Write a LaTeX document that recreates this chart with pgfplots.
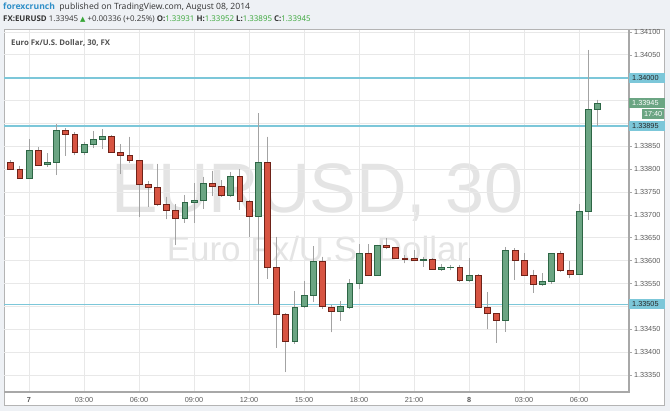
\documentclass[border=0pt]{standalone}
\usepackage{fontspec}
\usepackage{pgfplots}
\usepackage{pgfplotstable}
\pgfplotsset{compat=1.18}
\usepgfplotslibrary{statistics}
\setmainfont{Open Sans}
\newfontfamily\arialf{Liberation Sans}
\newfontfamily\dejavu{DejaVu Sans}

\definecolor{bgc}{HTML}{EEF1F5}
\definecolor{framec}{HTML}{B4B4B4}
\definecolor{gridc}{HTML}{E8E8E8}
\definecolor{axisc}{HTML}{A8A8A8}
\definecolor{tickc}{HTML}{5A5A5A}
\definecolor{wmc}{HTML}{E4E4E4}
\definecolor{upfill}{HTML}{6BA583}
\definecolor{upedge}{HTML}{2D6645}
\definecolor{downfill}{HTML}{D75442}
\definecolor{downedge}{HTML}{6E2218}
\definecolor{wick}{HTML}{A3A3A3}
\definecolor{refc}{HTML}{7CC7D9}
\definecolor{fcblue}{HTML}{2F8FC8}
\definecolor{hgreen}{HTML}{37A637}
\definecolor{hdrc}{HTML}{333333}
\definecolor{titlec}{HTML}{505050}

\pgfdeclarelayer{bg}
\pgfsetlayers{bg,main}

% Prices are kept as quoted (1.3xxxx). For plotting precision they are read
% exactly (by digits) as u = (price - 1.3) * 1000, e.g. 1.33816 -> 38.16.
\def\Pconv1.3#1#2#3#4#5\relax{#1#2.#3#4#5}
\newcommand\price[1]{\Pconv#1\relax}

% 30-minute candles, x = candle index (0 = Aug 7, 00:00)
\pgfplotstableread{
x  o       h       l       c
0  1.33781 1.33866 1.33779 1.33842
2  1.33810 1.33835 1.33805 1.33816
3  1.33815 1.33899 1.33787 1.33886
6  1.33838 1.33860 1.33831 1.33854
7  1.33854 1.33884 1.33846 1.33866
8  1.33866 1.33887 1.33844 1.33871
17 1.33693 1.33744 1.33683 1.33728
18 1.33728 1.33769 1.33683 1.33731
19 1.33731 1.33784 1.33714 1.33770
22 1.33742 1.33794 1.33740 1.33784
25 1.33698 1.33922 1.33505 1.33815
29 1.33423 1.33534 1.33418 1.33499
30 1.33500 1.33556 1.33496 1.33524
31 1.33524 1.33632 1.33510 1.33599
34 1.33490 1.33512 1.33469 1.33500
35 1.33498 1.33559 1.33494 1.33550
36 1.33550 1.33636 1.33537 1.33616
38 1.33569 1.33635 1.33568 1.33634
43 1.33601 1.33609 1.33587 1.33604
45 1.33582 1.33592 1.33578 1.33585
46 1.33585 1.33590 1.33579 1.33586
48 1.33556 1.33605 1.33555 1.33569
52 1.33470 1.33630 1.33445 1.33623
56 1.33549 1.33572 1.33545 1.33555
57 1.33555 1.33616 1.33549 1.33615
60 1.33571 1.33723 1.33570 1.33707
61 1.33707 1.34061 1.33689 1.33931
62 1.33931 1.33952 1.33895 1.33945
}\upcandles

\pgfplotstableread{
x  o       h       l       c
-2 1.33816 1.33820 1.33798 1.33800
-1 1.33800 1.33808 1.33779 1.33781
1  1.33842 1.33848 1.33808 1.33809
4  1.33886 1.33889 1.33829 1.33877
5  1.33877 1.33881 1.33831 1.33838
9  1.33872 1.33875 1.33837 1.33838
10 1.33838 1.33855 1.33789 1.33830
11 1.33830 1.33871 1.33813 1.33819
12 1.33819 1.33820 1.33696 1.33767
13 1.33767 1.33774 1.33718 1.33760
14 1.33760 1.33812 1.33719 1.33724
15 1.33724 1.33740 1.33690 1.33711
16 1.33711 1.33724 1.33634 1.33693
20 1.33770 1.33797 1.33741 1.33763
21 1.33763 1.33776 1.33740 1.33742
23 1.33784 1.33800 1.33711 1.33730
24 1.33730 1.33732 1.33652 1.33698
26 1.33815 1.33871 1.33560 1.33585
27 1.33585 1.33652 1.33410 1.33483
28 1.33483 1.33485 1.33356 1.33423
32 1.33599 1.33609 1.33494 1.33501
33 1.33499 1.33504 1.33443 1.33490
37 1.33616 1.33636 1.33566 1.33569
39 1.33634 1.33649 1.33625 1.33629
40 1.33630 1.33630 1.33604 1.33605
41 1.33605 1.33612 1.33594 1.33604
42 1.33605 1.33623 1.33599 1.33601
44 1.33604 1.33605 1.33580 1.33581
47 1.33585 1.33590 1.33555 1.33556
49 1.33569 1.33571 1.33496 1.33499
50 1.33499 1.33532 1.33450 1.33484
51 1.33484 1.33485 1.33421 1.33470
53 1.33623 1.33627 1.33558 1.33600
54 1.33600 1.33616 1.33567 1.33568
55 1.33568 1.33580 1.33530 1.33549
58 1.33615 1.33622 1.33576 1.33578
59 1.33578 1.33600 1.33561 1.33571
}\downcandles

\pgfplotstablegetrowsof{\upcandles}
\pgfmathtruncatemacro\Nup{\pgfplotsretval-1}
\pgfplotstablegetrowsof{\downcandles}
\pgfmathtruncatemacro\Ndown{\pgfplotsretval-1}

\pgfplotsset{
  candle/.style={line width=0.6pt,
    boxplot/box extend=0.64,
    boxplot/whisker extend=0,
    boxplot/every whisker/.style={draw=wick, line width=0.9pt},
  },
  upc/.style={candle, draw=upedge, fill=upfill,
    boxplot/every median/.style={draw=upedge, line width=0.6pt}},
  downc/.style={candle, draw=downedge, fill=downfill,
    boxplot/every median/.style={draw=downedge, line width=0.6pt}},
}

% read one candle (row #2 of table #1) into \cx \co \ch \cl \cc
\newcommand\getcandle[2]{%
  \pgfplotstablegetelem{#2}{x}\of#1\edef\cx{\pgfplotsretval}%
  \pgfplotstablegetelem{#2}{o}\of#1\edef\co{\expandafter\Pconv\pgfplotsretval\relax}%
  \pgfplotstablegetelem{#2}{h}\of#1\edef\ch{\expandafter\Pconv\pgfplotsretval\relax}%
  \pgfplotstablegetelem{#2}{l}\of#1\edef\cl{\expandafter\Pconv\pgfplotsretval\relax}%
  \pgfplotstablegetelem{#2}{c}\of#1\edef\cc{\expandafter\Pconv\pgfplotsretval\relax}%
}

\begin{document}
\begin{tikzpicture}[x=1pt,y=1pt]
\begin{axis}[
  scale only axis,
  width=624.5pt, height=362pt,
  xmin=-2.673, xmax=65.45, ymin=33.1282, ymax=41.0437,
  enlargelimits=false,
  clip=false,
  axis line style={draw=none},
  grid=major, grid style={draw=gridc, line width=0.8pt},
  xtick={0,6,12,18,24,30,36,42,48,54,60},
  xticklabels={\textbf{7},03:00,06:00,09:00,12:00,15:00,18:00,21:00,\textbf{8},03:00,06:00},
  ytick={33.5,34,34.5,35,35.5,36,36.5,37,37.5,38,38.5,39,39.5,40,40.5,41},
  yticklabels={1.33350,1.33400,1.33450,,1.33550,1.33600,1.33650,1.33700,1.33750,1.33800,1.33850,,,,1.34050,1.34100},
  ytick pos=right, yticklabel pos=right, xtick pos=bottom,
  tick align=outside, major tick length=3pt,
  xtick style={draw=none},
  ytick style={draw=axisc, line width=0.6pt},
  ticklabel style={font=\arialf\fontsize{7.3}{8}\selectfont, text=tickc},
  yticklabel style={anchor=west, xshift=-1.5pt},
  xticklabel style={yshift=1pt},
  boxplot/draw direction=y,
]
% support / resistance lines
\addplot[refc, line width=2pt] coordinates {(-2.673,\price{1.34000}) (65.45,\price{1.34000})};
\addplot[refc, line width=2pt] coordinates {(-2.673,\price{1.33895}) (65.45,\price{1.33895})};
\addplot[refc, line width=1pt] coordinates {(-2.673,\price{1.33505}) (65.45,\price{1.33505})};

\pgfplotsinvokeforeach{0,...,\Ndown}{%
  \getcandle{\downcandles}{#1}%
  \edef\tmpcmd{\noexpand\addplot[downc, boxplot prepared={draw position=\cx, lower whisker=\cl, upper whisker=\ch, lower quartile=\cc, upper quartile=\co, median=\cc}] coordinates {};}%
  \tmpcmd
}
\pgfplotsinvokeforeach{0,...,\Nup}{%
  \getcandle{\upcandles}{#1}%
  \edef\tmpcmd{\noexpand\addplot[upc, boxplot prepared={draw position=\cx, lower whisker=\cl, upper whisker=\ch, lower quartile=\co, upper quartile=\cc, median=\co}] coordinates {};}%
  \tmpcmd
}

\coordinate (A0) at (rel axis cs:0,0);
\coordinate (A1) at (rel axis cs:1,0);
\coordinate (A2) at (rel axis cs:1,1);
\coordinate (L1) at (axis cs:65.45,\price{1.34000});
\coordinate (L2) at (axis cs:65.45,\price{1.33945});
\coordinate (L3) at (axis cs:65.45,\price{1.33895});
\coordinate (L4) at (axis cs:65.45,\price{1.33505});
\end{axis}

% page origin: the plot area's lower-left corner lies at (4.5,19) of the 670 x 411 page
\path (A0) ++(-4.5,-19) coordinate (O);

\begin{scope}[shift={(O)}]
\begin{pgfonlayer}{bg}
\fill[bgc] (0,0) rectangle (670,411);
\filldraw[fill=white, draw=framec, line width=0.8pt] (4,5.5) rectangle (664.5,381.5);
% watermark
\node[font=\arialf\fontsize{70}{70}\selectfont, text=wmc, anchor=base, inner sep=0] at (317.5,198) {EURUSD, 30};
\node[font=\arialf\fontsize{35}{35}\selectfont, text=wmc, anchor=base, inner sep=0] at (317.5,149) {Euro Fx/U.S. Dollar};
\end{pgfonlayer}

% chart title inside
\node[anchor=west, inner sep=0, font=\bfseries\fontsize{7.8}{9}\selectfont, text=titlec] at (11,368) {Euro Fx/U.S. Dollar, 30, FX};

% header
\node[anchor=base west, inner sep=0, font=\fontsize{8.6}{10}\selectfont, text=hdrc] at (3,401)
  {\textcolor{fcblue}{\textbf{forexcrunch}}\ \ published on TradingView.com, August 08, 2014};
\node[anchor=base west, inner sep=0, font=\fontsize{7.9}{10}\selectfont, text=hdrc] at (3,389)
  {\textbf{FX:EURUSD} 1.33945 \textcolor{hgreen}{{\dejavu\fontsize{7}{8}\selectfont ▲}} +0.00336 (+0.25\%) \textbf{O:}\textcolor{hgreen}{1.33931} \textbf{H:}\textcolor{hgreen}{1.33952} \textbf{L:}\textcolor{hgreen}{1.33895} \textbf{C:}\textcolor{hgreen}{1.33945}};
\end{scope}

% axis lines (bottom and right edge of the plot area)
\draw[axisc, line width=1.2pt] (A0) -- (A1) -- (A2);

% price labels on the scale
\tikzset{lbl/.style={anchor=west, inner sep=0pt, minimum height=10pt, text width=35.5pt, align=left,
  font=\arialf\fontsize{7.3}{8}\selectfont}}
\node[lbl, fill=refc, text=black!85] at (L1) {\hspace*{3pt}1.34000};
\node[lbl, fill=upfill, text=white] at (L2) {\hspace*{3pt}1.33945};
\node[anchor=east, inner xsep=2pt, inner ysep=0pt, minimum height=9.5pt, fill=upfill, text=white,
  font=\arialf\fontsize{7.3}{8}\selectfont] at ([xshift=35.5pt,yshift=-11pt]L2) {17:40};
\node[lbl, fill=refc, text=black!85] at (L3) {\hspace*{3pt}1.33895};
\node[lbl, fill=refc, text=black!85] at (L4) {\hspace*{3pt}1.33505};

\pgfresetboundingbox
\path (O) rectangle ++(670,411);
\end{tikzpicture}
\end{document}
